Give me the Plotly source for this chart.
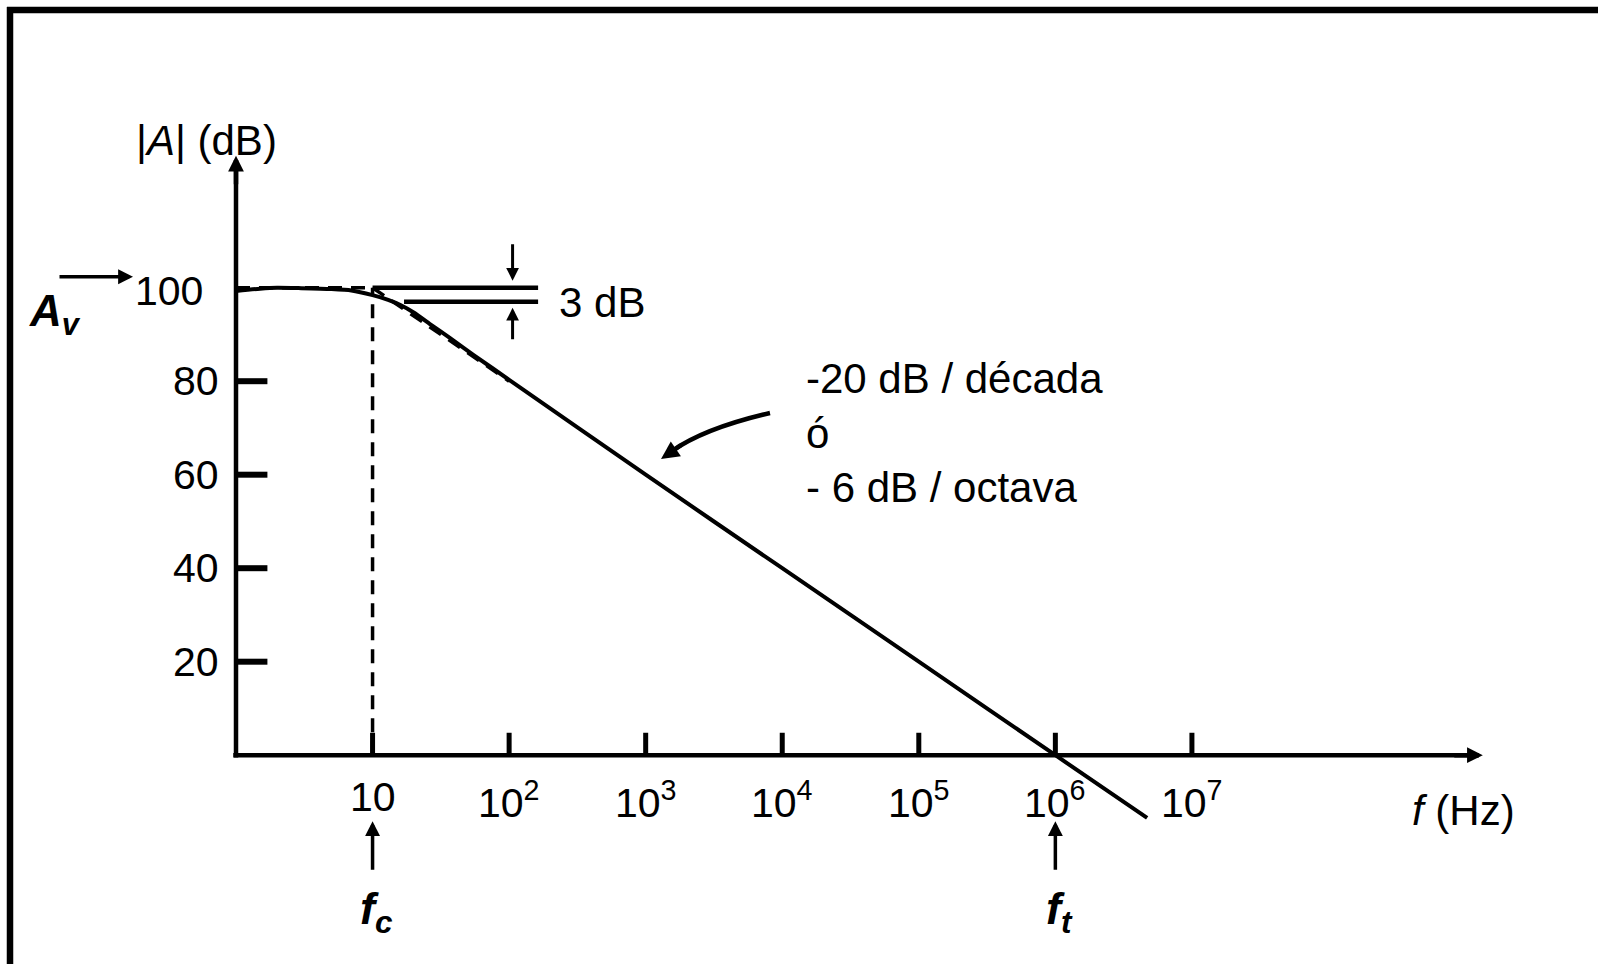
import math
import plotly.graph_objects as go

# ---- data -------------------------------------------------------------
# open-loop gain curve: frequency (Hz) and gain (dB)
freq_hz = [1, 1.5, 2, 3, 5, 7, 10, 13, 16, 20, 27, 37, 55, 100,
           1e3, 1e4, 1e5, 1e6, 4.7e6]
gain_db = [99.3, 99.8, 100.0, 99.9, 99.7, 99.4, 98.4, 97.4, 96.3, 94.7,
           92.0, 89.2, 85.6, 80.3, 60, 40, 20, 0, -13.4]

A_V = 100          # midband gain (dB)
F_C = 10           # corner frequency (Hz)
F_T = 1e6          # unity-gain frequency (Hz)
DROP_DB = 3        # gain drop at the corner

x_ticks = [10, 1e2, 1e3, 1e4, 1e5, 1e6, 1e7]
x_tick_text = ["10", "10<sup>2</sup>", "10<sup>3</sup>", "10<sup>4</sup>",
               "10<sup>5</sup>", "10<sup>6</sup>", "10<sup>7</sup>"]
y_ticks = [20, 40, 60, 80]
y_tick_text = ["20", "40", "60", "80"]

# ---- geometry of the drawing ----------------------------------------
W, H = 1598, 964
X0_PX, DEC_PX = 236.0, 136.56     # pixel of f = 1 Hz, pixels per decade
Y0_PX, DB_PX = 755.2, 4.675       # pixel of 0 dB, pixels per dB
X_TIP = 10 ** 9.13                # end of the frequency axis
Y_TOP = 128.2                     # end of the gain axis
FONT = "Liberation Sans, Arial, sans-serif"
BLACK = "#000000"
TXT = 42                          # size of the free labels


def px(x):
    return x / W


def py(y):
    return 1 - y / H


def lg(f):
    return math.log10(f)


fig = go.Figure()

# axes drawn as lines through the data scales
fig.add_trace(go.Scatter(x=[10 ** -0.02, X_TIP * 0.93], y=[0, 0], mode="lines",
                         line=dict(color=BLACK, width=4.5)))
fig.add_trace(go.Scatter(x=[1, 1], y=[-0.5, Y_TOP - 2], mode="lines",
                         line=dict(color=BLACK, width=4.5)))

# tick marks
tx, ty = [], []
for f in x_ticks:
    tx += [f, f, None]
    ty += [0, 4.8, None]
fig.add_trace(go.Scatter(x=tx, y=ty, mode="lines",
                         line=dict(color=BLACK, width=5)))
tx, ty = [], []
for g in y_ticks:
    tx += [1, 10 ** 0.23, None]
    ty += [g, g, None]
fig.add_trace(go.Scatter(x=tx, y=ty, mode="lines",
                         line=dict(color=BLACK, width=6)))

# dashed construction lines: A_v level, corner frequency, asymptote
dash = dict(color=BLACK, width=3.5, dash="14px,9px")
fig.add_trace(go.Scatter(x=[1, F_C], y=[A_V, A_V], mode="lines", line=dash))
fig.add_trace(go.Scatter(x=[F_C, F_C], y=[0, A_V], mode="lines", line=dash))
fig.add_trace(go.Scatter(x=[F_C, 100], y=[A_V, A_V - 20], mode="lines", line=dash))

# -3 dB reference bars
fig.add_trace(go.Scatter(x=[F_C, 163], y=[A_V, A_V], mode="lines",
                         line=dict(color=BLACK, width=4.5)))
fig.add_trace(go.Scatter(x=[17, 163], y=[A_V - DROP_DB, A_V - DROP_DB], mode="lines",
                         line=dict(color=BLACK, width=4.5)))

# gain curve
fig.add_trace(go.Scatter(x=freq_hz, y=gain_db, mode="lines",
                         line=dict(color=BLACK, width=4, shape="spline", smoothing=0.6)))

ann = []
# tick labels
for f, t in zip(x_ticks, x_tick_text):
    ann.append(dict(x=lg(f), y=0, xref="x", yref="y", text=t, showarrow=False,
                    xanchor="center", yanchor="top", yshift=-17,
                    font=dict(size=41, family=FONT, color=BLACK)))
for g, t in zip(y_ticks, y_tick_text):
    ann.append(dict(x=0, y=g, xref="x", yref="y", text=t, showarrow=False,
                    xanchor="right", yanchor="middle", xshift=-15,
                    font=dict(size=41, family=FONT, color=BLACK)))
ann.append(dict(x=0, y=A_V, xref="x", yref="y", text="100", showarrow=False,
                xanchor="right", yanchor="middle", xshift=-31, yshift=-3,
                font=dict(size=41, family=FONT, color=BLACK)))

# axis titles
ann.append(dict(x=px(206), y=py(140), xref="paper", yref="paper",
                text="|<i>A</i>| (dB)", showarrow=False, xanchor="center", yanchor="middle",
                font=dict(size=TXT, family=FONT, color=BLACK)))
ann.append(dict(x=px(1410), y=py(810), xref="paper", yref="paper",
                text="<i>f</i> (Hz)", showarrow=False, xanchor="left", yanchor="middle",
                font=dict(size=TXT, family=FONT, color=BLACK)))

# axis arrowheads
ann.append(dict(x=0, y=Y_TOP, xref="x", yref="y", ax=0, ay=30, text="",
                showarrow=True, arrowhead=2, arrowsize=0.7, arrowwidth=4.5,
                arrowcolor=BLACK, standoff=0))
ann.append(dict(x=lg(X_TIP), y=0, xref="x", yref="y", ax=-30, ay=0, text="",
                showarrow=True, arrowhead=2, arrowsize=0.7, arrowwidth=4.5,
                arrowcolor=BLACK, standoff=0))

# A_v marker
ann.append(dict(x=0, y=A_V, xref="x", yref="y", ax=-75, ay=0, xshift=-103, yshift=11,
                text="", showarrow=True, arrowhead=2, arrowsize=0.85, arrowwidth=3.5,
                arrowcolor=BLACK, standoff=0))
ann.append(dict(x=px(27), y=py(314), xref="paper", yref="paper",
                text="<b><i>A<sub>v</sub></i></b>", showarrow=False,
                xanchor="left", yanchor="middle",
                font=dict(size=44, family=FONT, color=BLACK)))

# 3 dB arrows and label
ann.append(dict(x=lg(106), y=A_V, xref="x", yref="y", ax=0, ay=-38, yshift=7,
                text="", showarrow=True, arrowhead=2, arrowsize=0.85, arrowwidth=3,
                arrowcolor=BLACK, standoff=0))
ann.append(dict(x=lg(106), y=A_V - DROP_DB, xref="x", yref="y", ax=0, ay=33, yshift=-6,
                text="", showarrow=True, arrowhead=2, arrowsize=0.85, arrowwidth=3,
                arrowcolor=BLACK, standoff=0))
ann.append(dict(x=px(557), y=py(302), xref="paper", yref="paper", text="3 dB",
                showarrow=False, xanchor="left", yanchor="middle",
                font=dict(size=TXT, family=FONT, color=BLACK)))

# slope note
ann.append(dict(x=px(804), y=py(433), xref="paper", yref="paper",
                text="-20 dB / década<br>ó<br>- 6 dB / octava", align="left",
                showarrow=False, xanchor="left", yanchor="middle",
                font=dict(size=TXT, family=FONT, color=BLACK)))

# curved pointer towards the slope (head)
ann.append(dict(x=px(661), y=py(459), xref="paper", yref="paper", ax=22, ay=-15,
                text="", showarrow=True, arrowhead=2, arrowsize=0.9, arrowwidth=4,
                arrowcolor=BLACK, standoff=0))

# f_c and f_t markers
for f, lab in [(F_C, "<b><i>f<sub>c</sub></i></b>"), (F_T, "<b><i>f<sub>t</sub></i></b>")]:
    ann.append(dict(x=lg(f), y=0, xref="x", yref="y", ax=0, ay=50, yshift=-66,
                    text="", showarrow=True, arrowhead=2, arrowsize=0.85, arrowwidth=3.5,
                    arrowcolor=BLACK, standoff=0))
    ann.append(dict(x=lg(f), y=0, xref="x", yref="y", text=lab, showarrow=False,
                    xanchor="center", yanchor="top", xshift=4, yshift=-126,
                    font=dict(size=45, family=FONT, color=BLACK)))

shapes = [
    # frame
    dict(type="line", xref="paper", yref="paper", x0=px(10), x1=px(10),
         y0=py(7), y1=py(H + 5), line=dict(color=BLACK, width=6.5)),
    dict(type="line", xref="paper", yref="paper", x0=px(7), x1=px(W + 5),
         y0=py(10), y1=py(10), line=dict(color=BLACK, width=6.5)),
    # curved pointer body
    dict(type="path", xref="paper", yref="paper",
         path=f"M {px(770)} {py(413)} Q {px(705)} {py(428)} {px(672)} {py(451)}",
         line=dict(color=BLACK, width=4.5)),
]

fig.update_layout(
    width=W, height=H,
    margin=dict(l=0, r=0, t=0, b=0),
    paper_bgcolor="white", plot_bgcolor="white",
    showlegend=False, hovermode=False,
    xaxis=dict(type="log", range=[-X0_PX / DEC_PX, (W - X0_PX) / DEC_PX],
               visible=False, fixedrange=True),
    yaxis=dict(range=[-(H - Y0_PX) / DB_PX, Y0_PX / DB_PX],
               visible=False, fixedrange=True),
    annotations=ann,
    shapes=shapes,
)

fig.write_html("out.html", config=dict(displayModeBar=False))
